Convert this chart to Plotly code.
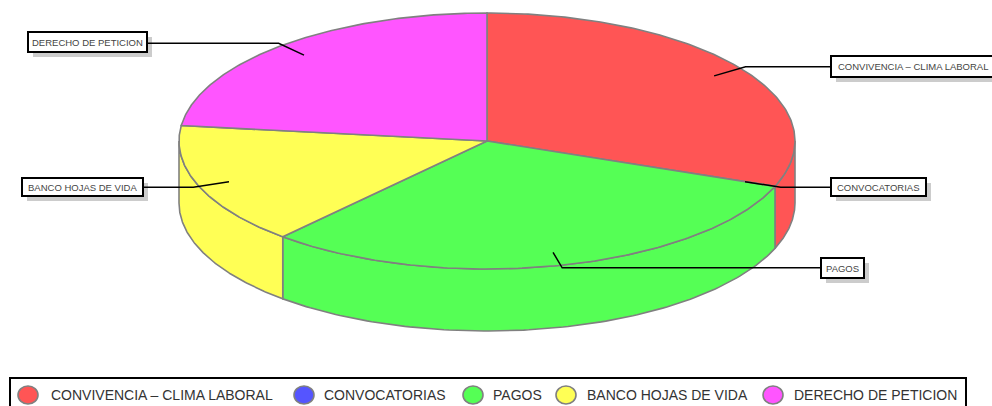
import numpy as np
import plotly.graph_objects as go

categories = ["CONVIVENCIA – CLIMA LABORAL", "CONVOCATORIAS", "PAGOS", "BANCO HOJAS DE VIDA", "DERECHO DE PETICION"]
values = [4, 0, 4, 2, 3]
colors = ["#FF5555", "#5555FF", "#55FF55", "#FFFF55", "#FF55FF"]

# pie geometry (pixels)
CX, CY, RX, RY, DEPTH = 487, 141, 308, 128, 62
EDGE = "#808080"
FONT = "Liberation Sans"

# callout boxes: x0, x1, y0, y1, side the leader joins
boxes = [(831, 995, 56, 77, "left"), (831, 926, 178, 196, "left"), (821, 864, 258, 278, "left"),
         (22, 143, 178, 196, "right"), (28, 147, 32, 52, "right")]
# legend layout
legend_box = (10, 966, 378, 412)
legend_y = 395
legend_swatch_x = [28, 304, 473, 566, 773]
legend_text_x = [49, 322, 491, 585, 792]


def pt(t, r=1.0, dy=0.0):
    t = np.asarray(t)
    return CX + r * RX * np.sin(t), CY - r * RY * np.cos(t) + dy


total = sum(values)
ends = np.cumsum(values) / total * 2 * np.pi
starts = np.concatenate([[0], ends[:-1]])
fig = go.Figure()


def poly(x, y, color, name):
    fig.add_trace(go.Scatter(x=x, y=y, mode="lines", fill="toself", fillcolor=color, name=name,
                             line=dict(color=EDGE, width=1.6), showlegend=False, hoverinfo="name"))


# side walls (front half only)
for s, e, c, n in zip(starts, ends, colors, categories):
    a, b = max(s, np.pi / 2), min(e, 3 * np.pi / 2)
    if b > a:
        t = np.linspace(a, b, 120)
        xt, yt = pt(t)
        xb, yb = pt(t[::-1], dy=DEPTH)
        poly(np.r_[xt, xb, xt[0]], np.r_[yt, yb, yt[0]], c, n)
# top face
for s, e, c, n in zip(starts, ends, colors, categories):
    if e > s:
        t = np.linspace(s, e, 160)
        x, y = pt(t)
        poly(np.r_[CX, x, CX], np.r_[CY, y, CY], c, n)

# leaders, derived from slice midpoints
for s, e, box, n in zip(starts, ends, boxes, categories):
    m = (s + e) / 2
    xa, ya = pt(m, 0.896)
    xe, ye = pt(m, 1.02)
    xl = box[0] if box[4] == "left" else box[1]
    fig.add_trace(go.Scatter(x=[float(xa), float(xe), xl], y=[float(ya), float(ye), float(ye)], mode="lines",
                             line=dict(color="black", width=1.5), showlegend=False, hoverinfo="skip"))

shapes = []
annotations = []
for box, n in zip(boxes, categories):
    x0, x1, y0, y1, _ = box
    shapes.append(dict(type="rect", x0=x0 + 5, x1=x1 + 5, y0=y0 + 5, y1=y1 + 5, fillcolor="#CCCCCC",
                       line=dict(width=0), layer="below"))
    shapes.append(dict(type="rect", x0=x0, x1=x1, y0=y0, y1=y1, fillcolor="white",
                       line=dict(color="black", width=2)))
    annotations.append(dict(x=(x0 + x1) / 2, y=(y0 + y1) / 2, text=n, showarrow=False, xref="x", yref="y",
                            font=dict(family=FONT, size=9.5, color="#444444")))

lx0, lx1, ly0, ly1 = legend_box
shapes.append(dict(type="rect", x0=lx0, x1=lx1, y0=ly0, y1=ly1, fillcolor="white",
                   line=dict(color="black", width=2)))
for sx, tx, n, c in zip(legend_swatch_x, legend_text_x, categories, colors):
    shapes.append(dict(type="circle", x0=sx - 10, x1=sx + 10, y0=legend_y - 9, y1=legend_y + 9, fillcolor=c,
                       line=dict(color=EDGE, width=1.6)))
    annotations.append(dict(x=tx, y=legend_y, text=n, showarrow=False, xanchor="left", xref="x", yref="y",
                            font=dict(family=FONT, size=14, color="#333333")))

fig.update_layout(
    width=992, height=406, margin=dict(l=0, r=0, t=0, b=0), paper_bgcolor="white", plot_bgcolor="white",
    xaxis=dict(range=[0, 992], visible=False, fixedrange=True),
    yaxis=dict(range=[406, 0], visible=False, fixedrange=True),
    shapes=shapes, annotations=annotations, showlegend=False,
)
fig.write_html("out.html", config=dict(displayModeBar=False),
               post_script="document.body.style.margin='0';document.documentElement.style.overflow='hidden';")
